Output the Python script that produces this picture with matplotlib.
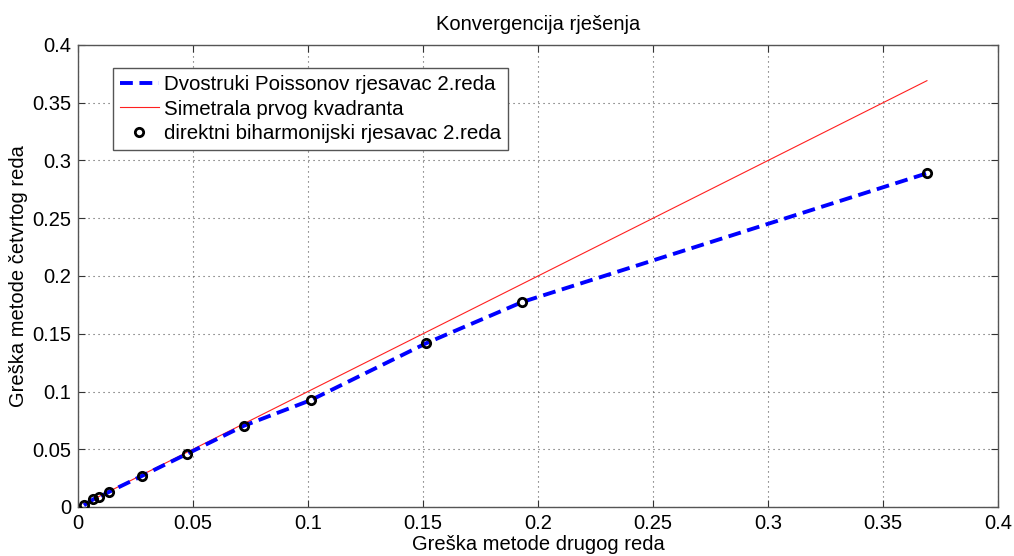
import matplotlib
matplotlib.use("Agg")
import matplotlib.pyplot as plt
import numpy as np

plt.rcParams['font.family'] = ['Liberation Sans', 'DejaVu Sans']

# data
err2 = [0.0026, 0.0067, 0.0093, 0.0136, 0.0280, 0.0473, 0.0722, 0.1013, 0.1513, 0.1932, 0.3691]
err4 = [0.0015, 0.0067, 0.0087, 0.0132, 0.0271, 0.0459, 0.0704, 0.0926, 0.1417, 0.1775, 0.2889]
ticks = [0, 0.05, 0.1, 0.15, 0.2, 0.25, 0.3, 0.35, 0.4]
tick_labels = ['0', '0.05', '0.1', '0.15', '0.2', '0.25', '0.3', '0.35', '0.4']

FS = 14.5
fig = plt.figure(figsize=(10.14, 5.56), dpi=100)
ax = fig.add_axes([78/1014, 1 - 507/556, 920/1014, 462/556])

ax.plot(err2, err4, color='#0000ff', lw=2.8, ls=(0, (3.3, 1.7)),
        label='Dvostruki Poissonov rjesavac 2.reda', zorder=3)
ax.plot(err2, err2, color='#ff2020', lw=0.8, label='Simetrala prvog kvadranta', zorder=2)
ax.plot(err2, err4, ls='none', marker='o', ms=6, mfc='none', mec='black', mew=2,
        label='direktni biharmonijski rjesavac 2.reda', zorder=4)

ax.set_xlim(0, 0.4)
ax.set_ylim(0, 0.4)
ax.set_xticks(ticks)
ax.set_xticklabels(tick_labels)
ax.set_yticks(ticks)
ax.set_yticklabels(tick_labels)
ax.tick_params(direction='in', length=5, labelsize=FS, top=True, right=True, colors='#333333',
               labelcolor='black', pad=5)
ax.grid(True, ls=(0, (1, 3.5)), color='#555555', lw=0.8)
for s in ax.spines.values():
    s.set_color('#555555')
    s.set_linewidth(1)

ax.set_title('Konvergencija rješenja', fontsize=FS, pad=11)
ax.set_xlabel('Greška metode drugog reda', fontsize=FS)
ax.set_ylabel('Greška metode četvrtog reda', fontsize=FS)
ax.xaxis.set_label_coords(0.5, (507 - 545) / 462, transform=ax.transAxes)
ax.xaxis.label.set_va('center')
ax.yaxis.set_label_coords((18 - 78) / 920, 0.5, transform=ax.transAxes)
ax.yaxis.label.set_va('center')

leg = ax.legend(loc='upper left', bbox_to_anchor=(35/920, 1 - 23/462), fontsize=14.8,
                frameon=True, fancybox=False, edgecolor='#555555', framealpha=1,
                handlelength=1.9, handletextpad=0.25, borderpad=0.33, labelspacing=0.28,
                borderaxespad=0)
leg.get_frame().set_linewidth(1)

fig.savefig('out.png', dpi=100)
